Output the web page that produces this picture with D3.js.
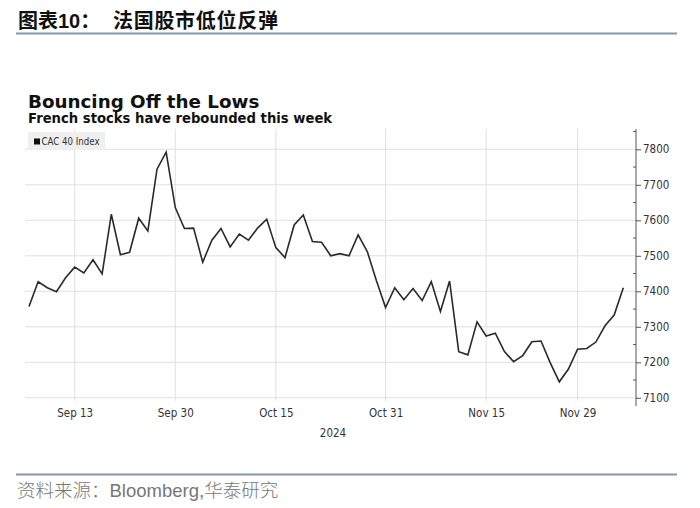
<!DOCTYPE html>
<html>
<head>
<meta charset="utf-8">
<script src="https://cdn.jsdelivr.net/npm/d3@7"></script>
<style>
  html, body { margin: 0; padding: 0; background: #fff; }
  svg { display: block; }
</style>
</head>
<body>
<div id="chart"></div>
<script>
// CAC 40 daily closes
dates = [
  "2024-09-06","2024-09-09","2024-09-10","2024-09-11","2024-09-12","2024-09-13",
  "2024-09-16","2024-09-17","2024-09-18","2024-09-19","2024-09-20",
  "2024-09-23","2024-09-24","2024-09-25","2024-09-26","2024-09-27",
  "2024-09-30","2024-10-01","2024-10-02","2024-10-03","2024-10-04",
  "2024-10-07","2024-10-08","2024-10-09","2024-10-10","2024-10-11",
  "2024-10-14","2024-10-15","2024-10-16","2024-10-17","2024-10-18",
  "2024-10-21","2024-10-22","2024-10-23","2024-10-24","2024-10-25",
  "2024-10-28","2024-10-29","2024-10-30","2024-10-31","2024-11-01",
  "2024-11-04","2024-11-05","2024-11-06","2024-11-07","2024-11-08",
  "2024-11-11","2024-11-12","2024-11-13","2024-11-14","2024-11-15",
  "2024-11-18","2024-11-19","2024-11-20","2024-11-21","2024-11-22",
  "2024-11-25","2024-11-26","2024-11-27","2024-11-28","2024-11-29",
  "2024-12-02","2024-12-03","2024-12-04","2024-12-05","2024-12-06"
];
cac40 = [
  7357, 7427, 7410, 7399, 7438, 7468,
  7452, 7489, 7449, 7617, 7503,
  7510, 7606, 7570, 7744, 7792,
  7636, 7577, 7578, 7482, 7544,
  7577, 7525, 7561, 7544, 7578,
  7603, 7523, 7495, 7587, 7615,
  7540, 7538, 7500, 7506, 7500,
  7559, 7512, 7430, 7354, 7410,
  7376, 7408, 7374, 7427, 7343,
  7429, 7230, 7221, 7314, 7274,
  7282, 7230, 7202, 7219, 7258,
  7260, 7199, 7145, 7181, 7237,
  7239, 7257, 7303, 7333, 7410
];
xTickDates = ["2024-09-13","2024-09-30","2024-10-15","2024-10-31","2024-11-15","2024-11-29"];
xTickLabels = ["Sep 13","Sep 30","Oct 15","Oct 31","Nov 15","Nov 29"];
yTicks = [7100, 7200, 7300, 7400, 7500, 7600, 7700, 7800];
yMinorTicks = [7150, 7250, 7350, 7450, 7550, 7650, 7750, 7850];

width = 700;
height = 508;

const svg = d3.select("#chart")
  .append("svg")
  .attr("width", width)
  .attr("height", height);

// report header
const head = svg.append("text")
  .attr("x", 18).attr("y", 28)
  .attr("font-family", "'Noto Sans CJK SC'")
  .attr("font-weight", "bold")
  .attr("font-size", 20)
  .attr("fill", "#111");
head.append("tspan").text("图表");
head.append("tspan").attr("font-family", "'Liberation Sans'").text("10");
head.append("tspan").text("：");
head.append("tspan").attr("x", 113).attr("letter-spacing", 0.7).text("法国股市低位反弹");

svg.append("line")
  .attr("x1", 16).attr("x2", 677)
  .attr("y1", 33.5).attr("y2", 33.5)
  .attr("stroke", "#8398ad").attr("stroke-width", 2);

// plot frame
const plot = { left: 25, right: 636, top: 129, bottom: 397.8 };

const x = d3.scalePoint().domain(dates).range([29, 623.3]);
const y = d3.scaleLinear().domain([7100, 7800]).range([397.8, 149.3]);

// horizontal grid
svg.append("g")
  .selectAll("line")
  .data(yTicks)
  .join("line")
  .attr("x1", plot.left).attr("x2", plot.right)
  .attr("y1", d => y(d)).attr("y2", d => y(d))
  .attr("stroke", "#e0e0e0").attr("stroke-width", 1);

// vertical grid
svg.append("g")
  .selectAll("line")
  .data(xTickDates)
  .join("line")
  .attr("x1", d => x(d)).attr("x2", d => x(d))
  .attr("y1", plot.top).attr("y2", plot.bottom + 3)
  .attr("stroke", "#e0e0e0").attr("stroke-width", 1);

// legend
const legend = svg.append("g").attr("transform", "translate(28,132)");
legend.append("rect")
  .attr("width", 77).attr("height", 18)
  .attr("fill", "#efefef");
legend.append("rect")
  .attr("x", 6).attr("y", 6.5).attr("width", 6).attr("height", 6)
  .attr("fill", "#111");
legend.append("text")
  .attr("x", 13.5).attr("y", 12.8)
  .attr("font-family", "'DejaVu Sans Condensed'")
  .attr("font-size", 9.6)
  .attr("fill", "#333")
  .text("CAC 40 Index");

// the series
const line = d3.line()
  .x((d, i) => x(dates[i]))
  .y(d => y(d));

svg.append("path")
  .datum(cac40)
  .attr("d", line)
  .attr("fill", "none")
  .attr("stroke", "#2a2a2a")
  .attr("stroke-width", 1.6)
  .attr("stroke-linejoin", "miter");

// right axis
const yAxis = d3.axisRight(y)
  .tickValues(yTicks)
  .tickFormat(d3.format("d"))
  .tickSize(5)
  .tickPadding(2);

const ya = svg.append("g")
  .attr("transform", `translate(${plot.right},0)`)
  .call(yAxis);
ya.select(".domain").remove();
ya.selectAll(".tick line").attr("stroke", "#555");
ya.selectAll(".tick text")
  .attr("font-family", "'DejaVu Sans Condensed'")
  .attr("font-size", 11.5)
  .attr("fill", "#333");

svg.append("line")
  .attr("x1", plot.right).attr("x2", plot.right)
  .attr("y1", plot.top).attr("y2", 406)
  .attr("stroke", "#555").attr("stroke-width", 1);

svg.append("g")
  .selectAll("line")
  .data(yMinorTicks.filter(d => y(d) > plot.top))
  .join("line")
  .attr("x1", plot.right - 3).attr("x2", plot.right)
  .attr("y1", d => y(d)).attr("y2", d => y(d))
  .attr("stroke", "#555");

// bottom axis labels
const xAxis = d3.axisBottom(x)
  .tickValues(xTickDates)
  .tickFormat((d, i) => xTickLabels[i])
  .tickSize(0)
  .tickPadding(11);

const xa = svg.append("g")
  .attr("transform", `translate(0,${plot.bottom})`)
  .call(xAxis);
xa.select(".domain").remove();
xa.selectAll(".tick text")
  .attr("font-family", "'DejaVu Sans Condensed'")
  .attr("font-size", 11.5)
  .attr("fill", "#333");

svg.append("text")
  .attr("x", 333).attr("y", 436.5)
  .attr("text-anchor", "middle")
  .attr("font-family", "'DejaVu Sans Condensed'")
  .attr("font-size", 11.5)
  .attr("fill", "#333")
  .text("2024");

// chart titles
svg.append("text")
  .attr("x", 28).attr("y", 107.5)
  .attr("font-family", "'DejaVu Sans'")
  .attr("font-weight", "bold")
  .attr("font-size", 18.3)
  .attr("fill", "#111")
  .text("Bouncing Off the Lows");

svg.append("text")
  .attr("x", 28).attr("y", 122.8)
  .attr("font-family", "'DejaVu Sans'")
  .attr("font-weight", "bold")
  .attr("font-size", 13.2)
  .attr("fill", "#111")
  .text("French stocks have rebounded this week");

// footer
svg.append("line")
  .attr("x1", 16).attr("x2", 677)
  .attr("y1", 474.5).attr("y2", 474.5)
  .attr("stroke", "#8398ad").attr("stroke-width", 2);

const foot = svg.append("text")
  .attr("x", 17).attr("y", 497)
  .attr("font-size", 18.5)
  .attr("fill", "#777");
foot.append("tspan")
  .attr("font-family", "'Noto Sans CJK SC'")
  .attr("font-weight", 300)
  .text("资料来源：");
foot.append("tspan")
  .attr("font-family", "'Liberation Sans'")
  .text("Bloomberg,");
foot.append("tspan")
  .attr("font-family", "'Noto Sans CJK SC'")
  .attr("font-weight", 300)
  .text("华泰研究");
</script>
</body>
</html>
